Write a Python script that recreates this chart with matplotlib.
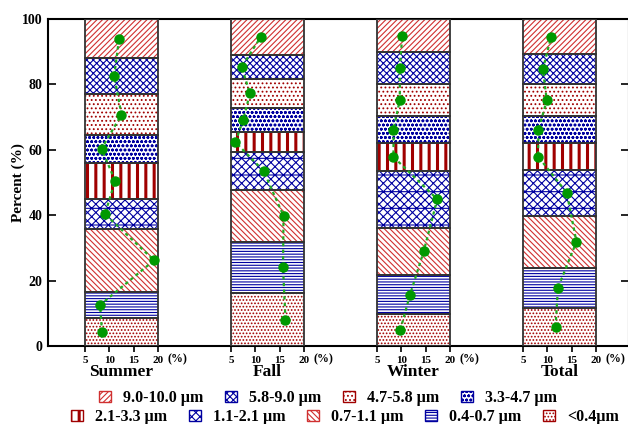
import matplotlib
matplotlib.use('Agg')
import matplotlib.pyplot as plt
from matplotlib.patches import Patch
import numpy as np

plt.rcParams['font.family'] = ['Liberation Serif', 'DejaVu Serif']
plt.rcParams['font.weight'] = 'bold'

# ---------------- data ----------------
seasons = ['Summer', 'Fall', 'Winter', 'Total']
size_bins = ['<0.4µm', '0.4-0.7 µm', '0.7-1.1 µm', '1.1-2.1 µm', '2.1-3.3 µm',
             '3.3-4.7 µm', '4.7-5.8 µm', '5.8-9.0 µm', '9.0-10.0 µm']
summer = [8.5, 8.1, 19.2, 9.1, 11.2, 8.4, 12.5, 11.0, 12.0]
fall = [16.2, 15.7, 15.8, 11.7, 5.9, 7.5, 8.9, 7.2, 11.1]
winter = [9.8, 11.8, 14.6, 17.4, 8.4, 8.4, 9.7, 9.7, 10.2]
total = [11.7, 12.2, 16.0, 14.0, 8.1, 8.2, 9.9, 9.1, 10.8]
pct_ticks = [5, 10, 15, 20]
y_ticks = [0, 20, 40, 60, 80, 100]

# ---------------- styles ----------------
RED = '#A00000'
RED_L = '#D03030'
BLUE = '#0000A0'
styles = [
    dict(color=RED, hatch='.....'),           # <0.4
    dict(color=BLUE, hatch='------'),         # 0.4-0.7
    dict(color=RED_L, hatch='\\\\\\\\\\\\'),  # 0.7-1.1
    dict(color=BLUE, hatch='xxxx-'),          # 1.1-2.1
    dict(color=RED, hatch='||', lw=2.2),      # 2.1-3.3
    dict(color=BLUE, hatch='oooo'),           # 3.3-4.7
    dict(color=RED, hatch='....'),            # 4.7-5.8
    dict(color=BLUE, hatch='xxxxx'),          # 5.8-9.0
    dict(color=RED_L, hatch='//////'),        # 9.0-10.0
]

W, H = 628, 424
fig = plt.figure(figsize=(W / 100, H / 100), dpi=100)
ax = fig.add_axes([48 / W, (H - 346) / H, (629 - 48) / W, (346 - 19) / H])

spacing = 30
data = [summer, fall, winter, total]


def set_hlw(artist, lw):
    if hasattr(artist, 'set_hatch_linewidth'):
        try:
            artist.set_hatch_linewidth(lw)
        except Exception:
            pass


for i, vals in enumerate(data):
    off = spacing * i
    vals = np.array(vals)
    bottoms = np.concatenate([[0], np.cumsum(vals)[:-1]])
    for j, (v, b) in enumerate(zip(vals, bottoms)):
        st = styles[j]
        bars = ax.bar(off + 12.5, v, width=15, bottom=b, facecolor='white',
                      edgecolor=st['color'], hatch=st['hatch'], linewidth=0, zorder=2)
        for p in bars:
            set_hlw(p, st.get('lw', 0.8))
        ax.bar(off + 12.5, v, width=15, bottom=b, fill=False,
               edgecolor='#333333', linewidth=1.3, zorder=3)
    mids = bottoms + vals / 2
    ax.plot(off + vals, mids, linestyle=(0, (1.5, 1.5)), color='#22AA22', lw=1.6, zorder=4)
    ax.plot(off + vals, mids, 'o', color='#009900', markersize=6.5, zorder=5)

ax.set_ylim(0, 100)
ax.set_xlim(-2.6, 116.8)
ax.set_yticks(y_ticks)
ax.set_yticklabels([str(t) for t in y_ticks], fontsize=10, fontweight='bold')
ax.tick_params(axis='y', direction='in', length=6, width=1.2, right=True, pad=4)
xt = []
xl = []
for i in range(len(seasons)):
    for t in pct_ticks:
        xt.append(spacing * i + t)
        xl.append(str(t))
ax.set_xticks(xt)
ax.set_xticklabels(xl, fontsize=8, fontweight='bold')
ax.tick_params(axis='x', direction='out', length=4, width=1.2, pad=3)
for s in ax.spines.values():
    s.set_linewidth(1.5)

for i, name in enumerate(seasons):
    ax.text(spacing * i + 21.9, -4.0, '(%)', fontsize=8.5, fontweight='bold',
            ha='left', va='center', clip_on=False)
    ax.text(spacing * i + 12.5, -5.6, name, fontsize=12.5, fontweight='bold',
            ha='center', va='top', clip_on=False)

ax.set_ylabel('Percent (%)', fontsize=11, fontweight='bold')
ax.yaxis.set_label_coords(-0.040, 0.5)


def handle(j):
    st = styles[j]
    return Patch(facecolor='white', edgecolor=st['color'], hatch=st['hatch'], linewidth=1.0)


row1 = [8, 7, 6, 5]
row2 = [4, 3, 2, 1, 0]
common = dict(loc='center', frameon=False, fontsize=11.5, handlelength=0.75,
              handleheight=0.7, handletextpad=0.75, columnspacing=1.35,
              borderaxespad=0, borderpad=0)
leg1 = fig.legend([handle(j) for j in row1], [size_bins[j] for j in row1],
                  bbox_to_anchor=(328 / W, 1 - 398 / H), ncol=4, **common)
leg2 = fig.legend([handle(j) for j in row2], [size_bins[j] for j in row2],
                  bbox_to_anchor=(345 / W, 1 - 417 / H), ncol=5, **common)
for leg, rows in ((leg1, row1), (leg2, row2)):
    for t in leg.get_texts():
        t.set_fontweight('bold')
    for h, j in zip(leg.legend_handles, rows):
        set_hlw(h, styles[j].get('lw', 0.8))

fig.savefig('out.png', dpi=100)
